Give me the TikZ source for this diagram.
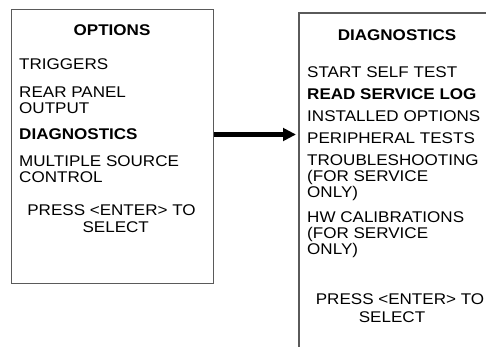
\documentclass[tikz,border=0pt]{standalone}
\usepackage{fontspec}
\setmainfont{Liberation Sans}[FakeStretch=1.1]
\usetikzlibrary{arrows.meta}
\definecolor{boxgray}{HTML}{5A5A5A}
\begin{document}
\begin{tikzpicture}[x=1pt,y=-1pt,
  txt/.style={inner sep=0pt,anchor=base west,font=\fontsize{15.5}{16}\selectfont},
  ctxt/.style={inner sep=0pt,anchor=base,font=\fontsize{15.5}{16}\selectfont},
  btxt/.style={txt,font=\fontsize{15.5}{16}\selectfont\bfseries},
  bctxt/.style={ctxt,font=\fontsize{15.5}{16}\selectfont\bfseries},
  panel/.style={draw=boxgray,line width=1.1pt}]
\useasboundingbox (0,0) rectangle (486,347);
% left box
\node[panel,inner sep=0pt,minimum width=202pt,minimum height=274pt,anchor=north west] (opt) at (11,9) {};
\node[bctxt] (h1) at (112,35.3) {OPTIONS};
\node[txt] (t1) at (19,70) {TRIGGERS};
\node[txt] (t2) at (19,97.7) {REAR PANEL};
\node[txt] (t3) at (19,113.3) {OUTPUT};
\node[btxt] (t4) at (19,139.3) {DIAGNOSTICS};
\node[txt] (t5) at (19,166.7) {MULTIPLE SOURCE};
\node[txt] (t6) at (19,182.7) {CONTROL};
\node[ctxt] (p1) at (111.5,215) {PRESS <ENTER> TO};
\node[ctxt] (p2) at (115.7,232.7) {SELECT};
% right box (cropped at image edge)
\coordinate (rtr) at (486,13);
\coordinate (rtl) at (299,13);
\coordinate (rbl) at (299,347);
\draw[panel] (rtr) -- (rtl) -- (rbl);
\node[bctxt] (h2) at (397,40.5) {DIAGNOSTICS};
\node[txt] (d1) at (307,77.5) {START SELF TEST};
\node[btxt] (d2) at (307,100) {READ SERVICE LOG};
\node[txt] (d3) at (307,121.7) {INSTALLED OPTIONS};
\node[txt] (d4) at (307,143.3) {PERIPHERAL TESTS};
\node[txt] (d5) at (307,165.7) {TROUBLESHOOTING};
\node[txt] (d6) at (307,181.7) {(FOR SERVICE};
\node[txt] (d7) at (307,197) {ONLY)};
\node[txt] (d8) at (307,222.7) {HW CALIBRATIONS};
\node[txt] (d9) at (307,238.3) {(FOR SERVICE};
\node[txt] (d10) at (307,254) {ONLY)};
\node[ctxt] (q1) at (400,304) {PRESS <ENTER> TO};
\node[ctxt] (q2) at (392,322) {SELECT};
% arrow
\coordinate (aend) at (296,134.5);
\draw[line width=4.5pt,-{Triangle[length=13pt,width=12.5pt]}] (opt.east |- aend) -- (aend);
\end{tikzpicture}
\end{document}
